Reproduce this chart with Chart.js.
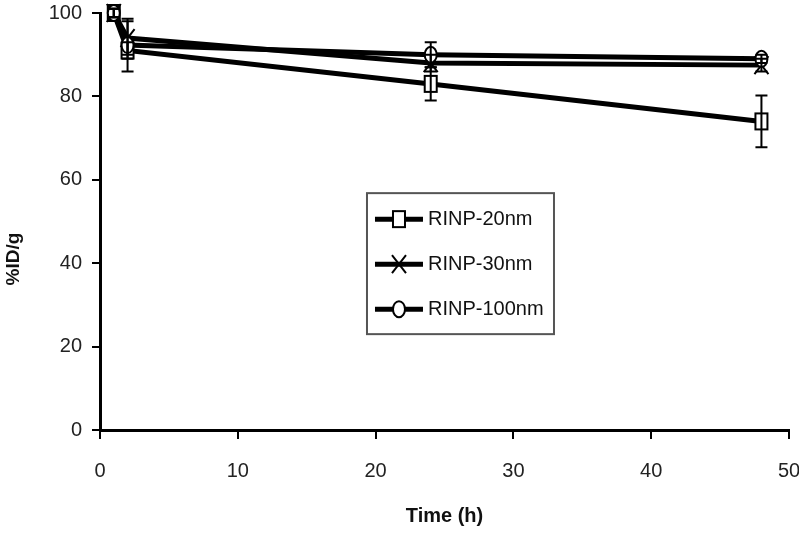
<!DOCTYPE html>
<html>
<head>
<meta charset="utf-8">
<script src="https://cdn.jsdelivr.net/npm/chart.js@4.4.1/dist/chart.umd.min.js"></script>
<style>
  html, body { margin: 0; padding: 0; background: #fff; }
  #wrap { width: 799px; height: 533px; }
</style>
</head>
<body>
<div id="wrap"><canvas id="chart" width="799" height="533"></canvas></div>
<script>
// time points (h) and %ID/g values
const timePoints = [1, 2, 24, 48];
const rinp20 = [100, 91, 83, 74];
const rinp20Err = [1, 2, 4, 6.2];
const rinp30 = [100, 94, 88, 87.5];
const rinp30Err = [1, 4, 2, 1.5];
const rinp100 = [100, 92.3, 90, 89];
const rinp100Err = [1, 6.3, 3, 1];
const seriesLabels = ['RINP-20nm', 'RINP-30nm', 'RINP-100nm'];
const xTicks = [0, 10, 20, 30, 40, 50];
const yTicks = [0, 20, 40, 60, 80, 100];

const FONT = '"Liberation Sans", Arial, sans-serif';
const toPoints = vals => timePoints.map((t, i) => ({ x: t, y: vals[i] }));
const errs = [rinp20Err, rinp30Err, rinp100Err];
const styles = ['rect', 'crossRot', 'circle'];

function marker(ctx, style, x, y) {
  ctx.save();
  ctx.lineWidth = 2;
  ctx.strokeStyle = '#000';
  ctx.fillStyle = '#fff';
  if (style === 'rect') {
    ctx.fillRect(x - 6, y - 8, 12, 16);
    ctx.strokeRect(x - 6, y - 8, 12, 16);
  } else if (style === 'circle') {
    ctx.beginPath();
    ctx.ellipse(x, y, 6, 8, 0, 0, Math.PI * 2);
    ctx.fill(); ctx.stroke();
  } else {
    ctx.beginPath();
    ctx.moveTo(x - 7, y - 9); ctx.lineTo(x + 7, y + 9);
    ctx.moveTo(x + 7, y - 9); ctx.lineTo(x - 7, y + 9);
    ctx.stroke();
  }
  ctx.restore();
}

// draws markers (taller than wide, like the source) plus error bars
const marksAndErrors = {
  id: 'marksAndErrors',
  afterDatasetsDraw(chart) {
    const { ctx, scales: { x, y } } = chart;
    chart.data.datasets.forEach((ds, di) => {
      ds.data.forEach(p => marker(ctx, styles[di], x.getPixelForValue(p.x), y.getPixelForValue(p.y)));
    });
    ctx.save();
    ctx.strokeStyle = '#000';
    ctx.lineWidth = 2;
    chart.data.datasets.forEach((ds, di) => {
      ds.data.forEach((p, i) => {
        const e = errs[di][i];
        const px = x.getPixelForValue(p.x);
        const top = y.getPixelForValue(p.y + e);
        const bot = y.getPixelForValue(p.y - e);
        ctx.beginPath();
        ctx.moveTo(px, top); ctx.lineTo(px, bot);
        ctx.moveTo(px - 6, top); ctx.lineTo(px + 6, top);
        ctx.moveTo(px - 6, bot); ctx.lineTo(px + 6, bot);
        ctx.stroke();
      });
    });
    ctx.restore();
  }
};

const boxLegend = {
  id: 'boxLegend',
  afterDraw(chart) {
    const { ctx, chartArea: a } = chart;
    const w = a.right - a.left, h = a.bottom - a.top;
    // y axis title, sits a bit below the middle in the source
    ctx.save();
    ctx.translate(14, a.top + h * 0.59);
    ctx.rotate(-Math.PI / 2);
    ctx.font = 'bold 19px ' + FONT;
    ctx.fillStyle = '#111';
    ctx.textAlign = 'center';
    ctx.textBaseline = 'middle';
    ctx.fillText('%ID/g', 0, 0);
    ctx.restore();

    const lx = a.left + w * 0.3875, ly = a.top + h * 0.432;
    const bw = 187, bh = 141;
    ctx.save();
    ctx.strokeStyle = '#555';
    ctx.lineWidth = 2;
    ctx.strokeRect(lx, ly, bw, bh);
    ctx.font = '20px ' + FONT;
    ctx.fillStyle = '#111';
    ctx.textBaseline = 'middle';
    chart.data.datasets.forEach((ds, i) => {
      const ry = ly + 26 + i * 45;
      ctx.strokeStyle = '#000';
      ctx.lineWidth = 5;
      ctx.beginPath();
      ctx.moveTo(lx + 8, ry); ctx.lineTo(lx + 56, ry);
      ctx.stroke();
      marker(ctx, styles[i], lx + 32, ry);
      ctx.fillText(ds.label, lx + 61, ry);
    });
    ctx.restore();
  }
};

const makeSet = (label, vals) => ({
  label,
  data: toPoints(vals),
  showLine: true,
  borderColor: '#000',
  borderWidth: 5,
  pointRadius: 0,
  tension: 0
});

new Chart(document.getElementById('chart'), {
  type: 'scatter',
  data: {
    datasets: [
      makeSet(seriesLabels[0], rinp20),
      makeSet(seriesLabels[1], rinp30),
      makeSet(seriesLabels[2], rinp100)
    ]
  },
  options: {
    responsive: false,
    animation: false,
    layout: { padding: { top: 13, right: 10, bottom: 0, left: 0 } },
    plugins: { legend: { display: false }, tooltip: { enabled: false } },
    scales: {
      x: {
        type: 'linear', min: 0, max: 50,
        afterBuildTicks: s => { s.ticks = xTicks.map(v => ({ value: v })); },
        afterFit: s => { s.height = 103; s.paddingLeft = 0; s.paddingRight = 0; },
        grid: { drawOnChartArea: false, drawTicks: true, tickLength: 9, color: '#000', lineWidth: 2 },
        border: { display: true, color: '#000', width: 3 },
        ticks: { color: '#222', padding: 20, font: { size: 20, family: FONT } },
        title: { display: true, text: 'Time (h)', color: '#111', padding: { top: 0, bottom: 5 },
                 font: { size: 20, weight: 'bold', family: FONT } }
      },
      y: {
        min: 0, max: 100,
        afterBuildTicks: s => { s.ticks = yTicks.map(v => ({ value: v })); },
        afterFit: s => { s.width = 100; s.paddingTop = 0; s.paddingBottom = 0; },
        grid: { drawOnChartArea: false, drawTicks: true, tickLength: 8, color: '#000', lineWidth: 2 },
        border: { display: true, color: '#000', width: 3 },
        ticks: { color: '#222', padding: 10, font: { size: 20, family: FONT } }
      }
    }
  },
  plugins: [marksAndErrors, boxLegend]
});
</script>
</body>
</html>
